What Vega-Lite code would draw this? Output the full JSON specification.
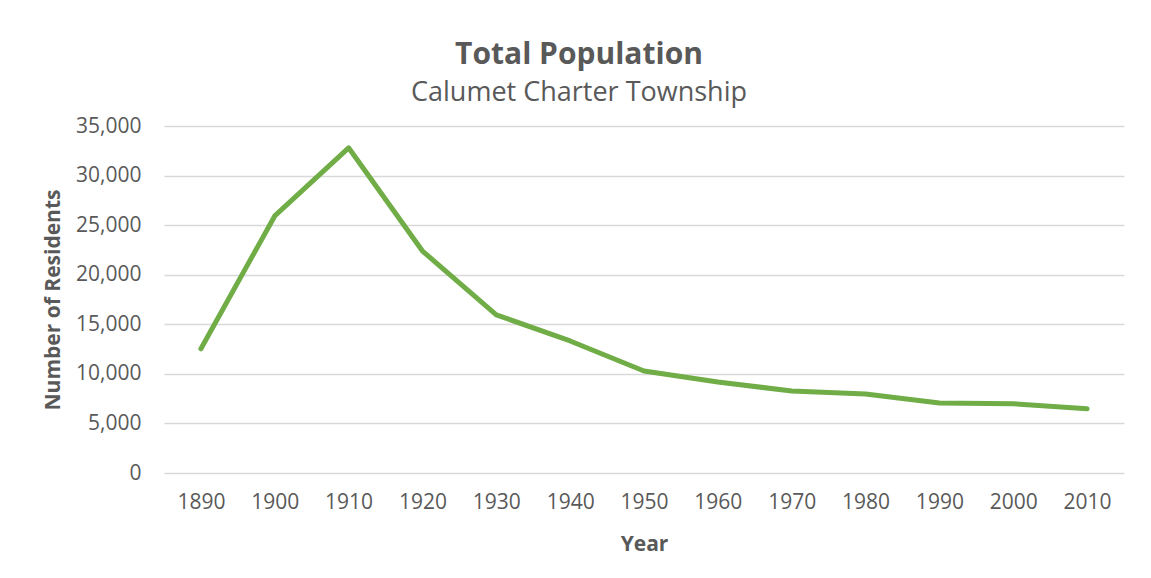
{
  "$schema": "https://vega.github.io/schema/vega-lite/v6.json",
  "width": 960,
  "height": 347,
  "autosize": {"type": "none"},
  "padding": {"left": 164, "top": 126, "right": 27, "bottom": 105},
  "background": "white",
  "title": {
    "text": "Total Population",
    "subtitle": "Calumet Charter Township",
    "anchor": "middle",
    "dx": -65,
    "offset": 9,
    "font": "Open Sans",
    "fontSize": 30,
    "fontWeight": "bold",
    "color": "#595959",
    "subtitleFont": "Open Sans",
    "subtitleFontSize": 27,
    "subtitleColor": "#595959",
    "subtitlePadding": 10
  },
  "data": {
    "values": [
      {"Year": "1890", "Residents": 12529},
      {"Year": "1900", "Residents": 25930},
      {"Year": "1910", "Residents": 32800},
      {"Year": "1920", "Residents": 22390},
      {"Year": "1930", "Residents": 15950},
      {"Year": "1940", "Residents": 13320},
      {"Year": "1950", "Residents": 10290},
      {"Year": "1960", "Residents": 9180},
      {"Year": "1970", "Residents": 8270},
      {"Year": "1980", "Residents": 7970},
      {"Year": "1990", "Residents": 7060},
      {"Year": "2000", "Residents": 6990},
      {"Year": "2010", "Residents": 6480}
    ]
  },
  "mark": {"type": "line", "color": "#70AD47", "strokeWidth": 5, "strokeCap": "round", "strokeJoin": "round"},
  "encoding": {
    "x": {
      "field": "Year",
      "type": "ordinal",
      "scale": {"type": "point", "padding": 0.5},
      "axis": {
        "title": "Year",
        "labelAngle": 0,
        "ticks": false,
        "domain": false,
        "grid": false,
        "labelPadding": 18,
        "titlePadding": 21
      }
    },
    "y": {
      "field": "Residents",
      "type": "quantitative",
      "scale": {"domain": [0, 35000]},
      "axis": {
        "title": "Number of Residents",
        "values": [0, 5000, 10000, 15000, 20000, 25000, 30000, 35000],
        "format": ",d",
        "ticks": false,
        "domain": false,
        "gridColor": "#d9d9d9",
        "gridWidth": 1.5,
        "labelPadding": 23,
        "titlePadding": 12
      }
    }
  },
  "config": {
    "view": {"stroke": null},
    "axis": {
      "labelFont": "Open Sans",
      "labelFontSize": 21,
      "labelColor": "#595959",
      "titleFont": "Open Sans",
      "titleFontSize": 21,
      "titleFontWeight": "bold",
      "titleColor": "#595959"
    }
  }
}
